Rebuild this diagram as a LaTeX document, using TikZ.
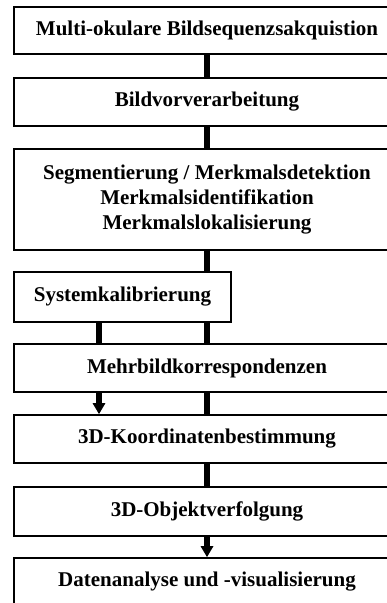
\documentclass[tikz,border=0pt]{standalone}
\usepackage{fontspec}
\setmainfont{Liberation Serif}
\usetikzlibrary{arrows.meta}
\begin{document}
\begin{tikzpicture}[x=1pt, y=-1pt,
	box/.style={draw, line width=1.6pt, rectangle, align=center, inner sep=0pt,
		font=\fontsize{21}{25}\selectfont\bfseries},
	wide/.style={box, minimum width=386pt},
	conn/.style={line width=6pt},
	arr/.style={conn, -{Triangle[width=12pt, length=11pt]}}]
	\useasboundingbox (0,0) rectangle (387,603);
	\clip (0,0) rectangle (387,603);
	%processing steps
		\node (acq) at (207, 30.5) [wide, minimum height=47pt]{Multi-okulare Bildsequenzsakquistion};
		\node (pre) at (207, 102) [wide, minimum height=48pt]{Bildvorverarbeitung};
		\node (seg) at (207, 199.5) [wide, minimum height=101pt]{Segmentierung / Merkmalsdetektion\\Merkmalsidentifikation\\Merkmalslokalisierung};
		\node (kal) at (122.5, 297) [box, minimum width=217pt, minimum height=50pt]{Systemkalibrierung};
		\node (mbk) at (207, 368) [wide, minimum height=48pt]{Mehrbildkorrespondenzen};
		\node (koo) at (207, 439) [wide, minimum height=48pt]{3D-Koordinatenbestimmung};
		\node (obj) at (207, 511.5) [wide, minimum height=49pt]{3D-Objektverfolgung};
		\node (dat) at (207, 582) [wide, minimum height=48pt]{Datenanalyse und -visualisierung};
	%connectors
		\coordinate (lft) at (99, 0);
		\draw[conn] (acq.south) -- (pre.north);
		\draw[conn] (pre.south) -- (seg.north);
		\draw[conn] (seg.south) -- (seg.south |- kal.north);
		\draw[conn] (kal.south -| lft) -- (mbk.north -| lft);
		\draw[conn] (kal.south -| mbk.south) -- (mbk.north);
		\draw[arr] (mbk.south -| lft) -- (koo.north -| lft);
		\draw[conn] (mbk.south) -- (koo.north);
		\draw[conn] (koo.south) -- (obj.north);
		\draw[arr] (obj.south) -- (dat.north);
\end{tikzpicture}
\end{document}
